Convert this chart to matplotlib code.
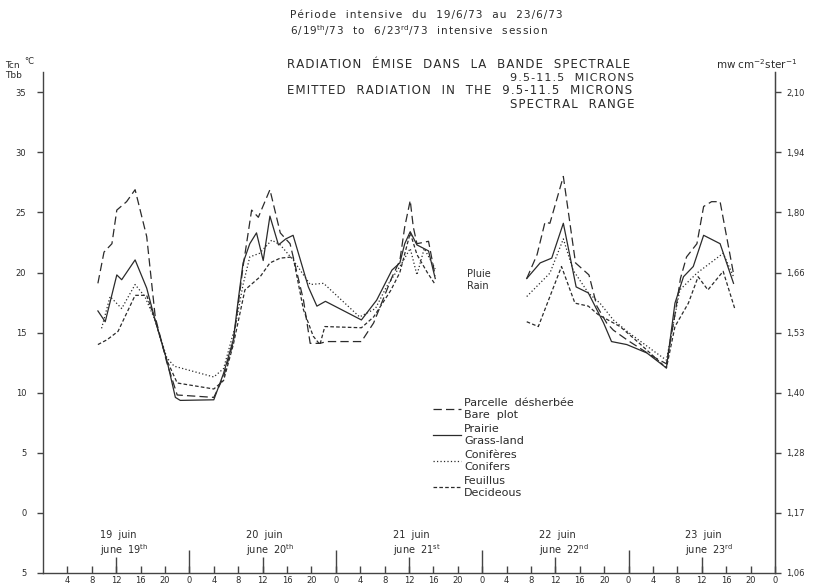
import numpy as np
import matplotlib.pyplot as plt

plt.rcParams['font.family'] = ['DejaVu Sans']
plt.rcParams['lines.scale_dashes'] = False

W, H = 814, 586
INK = "#2b2b2b"

# hours counted from 19 June 0h, temperatures in degC
# two measured stretches each, the gap in between is the rain
bare_h1 = [9, 10, 11.3, 12.1, 13.7, 15.1, 17, 18.4, 20.3, 22, 28, 29.6, 31.2, 32.8, 34.2, 35.3, 37.2,
           38.9, 40.5, 42.7, 43.8, 45.4, 46.5, 52.2, 54.2, 57.2, 58.5, 59.3, 60.2, 60.7, 61.3, 63.2, 64.3]
bare_v1 = [19.1, 21.7, 22.4, 25.2, 25.9, 26.9, 23.0, 16.3, 12.5, 9.8, 9.6, 11.3, 14.2, 20.5, 25.2, 24.6, 26.9,
           23.3, 22.4, 17.7, 14.1, 14.1, 14.25, 14.25, 15.8, 19.6, 21.0, 23.8, 26.0, 23.8, 22.4, 22.6, 19.7]
bare_h2 = [79.3, 81, 82.3, 83.1, 85.3, 87.3, 89.5, 90.8, 92.4, 93.5, 96, 100, 102.2, 103.6, 104.5,
           105.5, 107.2, 108.3, 109.6, 111, 113.2]
bare_v2 = [19.5, 21.5, 24.2, 24.1, 28.0, 20.8, 19.8, 17.2, 15.8, 15.2, 14.3, 13.0, 12.4, 16.5, 19.5,
           21.3, 22.4, 25.5, 25.9, 25.9, 19.9]

grass_h1 = [9, 10.2, 12.1, 12.9, 15.1, 17, 18.4, 20.3, 21.7, 22.5, 28, 29.6, 31.2, 32, 32.8, 33.9, 35,
            36.1, 37.2, 38.6, 39.8, 41, 43.5, 44.9, 46.3, 52.2, 54.7, 57.2, 58.5, 59.3, 60.2, 61.3, 63.2, 64.3]
grass_v1 = [16.8, 15.9, 19.8, 19.4, 21.05, 18.7, 16.0, 12.7, 9.6, 9.35, 9.4, 11.6, 14.4, 17.7, 20.8, 22.4, 23.3,
            21.0, 24.7, 22.3, 22.8, 23.1, 18.8, 17.2, 17.6, 16.05, 17.7, 20.2, 20.8, 22.4, 23.4, 22.3, 21.8, 19.5]
grass_h2 = [79.3, 81.5, 83.4, 85.3, 87.4, 89.4, 91.9, 93.2, 95.7, 99, 102.2, 103.6, 105, 106.6, 108.3, 111, 113.2]
grass_v2 = [19.5, 20.8, 21.2, 24.1, 18.8, 18.3, 15.8, 14.25, 14.0, 13.3, 12.05, 17.45, 19.65, 20.5, 23.1, 22.4, 19.1]

conif_h1 = [9.6, 11, 12.9, 15.1, 16.7, 18.4, 20.3, 21.5, 28, 29.6, 31.5, 32.8, 33.9, 35.5, 37.5, 38.9, 41,
            43.8, 46, 51.9, 54.5, 56.3, 58.5, 60.2, 61.3, 62.5, 64.3]
conif_v1 = [15.35, 18.0, 17.0, 19.0, 18.0, 16.0, 12.9, 12.2, 11.3, 12.0, 15.5, 19.0, 21.3, 21.6, 22.7, 22.3, 21.05,
            19.0, 19.1, 16.3, 17.0, 18.8, 20.5, 22.0, 19.8, 22.0, 20.3]
conif_h2 = [79.3, 83.1, 85.3, 86.9, 89.4, 91.3, 93.5, 96, 100, 102.2, 104.4, 107.2, 111.5, 113.2]
conif_v2 = [18.0, 19.95, 22.8, 20.2, 18.3, 17.45, 16.05, 15.0, 13.5, 12.7, 18.55, 19.95, 21.6, 19.65]

decid_h1 = [9, 10.5, 12.3, 15.1, 17, 18.4, 20.3, 22, 28, 29.6, 31.2, 33.1, 35.6, 37.2, 38.9, 41, 42.7,
            44.3, 45.4, 46.2, 52.2, 54.2, 57, 58.5, 60.2, 61.3, 63, 64.3]
decid_v1 = [14.0, 14.4, 15.1, 18.1, 18.1, 16.0, 12.7, 10.8, 10.3, 11.0, 14.0, 18.55, 19.65, 20.8, 21.2, 21.3, 16.9,
            14.7, 14.0, 15.5, 15.4, 16.3, 18.5, 20.0, 23.3, 21.5, 20.0, 19.0]
decid_h2 = [79.3, 81.2, 85, 87.2, 89.4, 91, 94.6, 98, 102.2, 103.6, 105.8, 107.4, 109, 111.5, 113.4]
decid_v2 = [15.9, 15.5, 20.5, 17.45, 17.2, 16.5, 15.5, 14.0, 12.05, 15.5, 17.45, 19.65, 18.55, 20.1, 17.0]

series_labels = ["Parcelle  désherbée\nBare  plot", "Prairie\nGrass-land",
                 "Conifères\nConifers", "Feuillus\nDecideous"]

left_ticks = [35, 30, 25, 20, 15, 10, 5, 0, -5]
left_labels = ["35", "30", "25", "20", "15", "10", "5", "0", "5"]
right_labels = ["2,10", "1,94", "1,80", "1,66", "1,53", "1,40", "1,28", "1,17", "1,06"]

day_labels = ["19  juin\njune  19$^{\\rm th}$", "20  juin\njune  20$^{\\rm th}$",
              "21  juin\njune  21$^{\\rm st}$", "22  juin\njune  22$^{\\rm nd}$",
              "23  juin\njune  23$^{\\rm rd}$"]


def join(h1, v1, h2, v2):
    # NaN breaks the line over the rain gap
    return np.array(h1 + [np.nan] + h2), np.array(v1 + [np.nan] + v2)


def track(s):
    # the old lettering is widely spaced, fake it with hair spaces
    return "\u200a".join(s)


def fx(px):
    return px / W


def fy(py):
    return 1 - py / H


fig = plt.figure(figsize=(W / 100, H / 100), dpi=100)
ax = fig.add_axes([fx(43), fy(572.7), (775 - 43) / W, (572.7 - 72) / H])

styles = [(0, (6, 3)), "-", (0, (0.9, 1.6)), (0, (2.6, 1.6))]
data = [join(bare_h1, bare_v1, bare_h2, bare_v2),
        join(grass_h1, grass_v1, grass_h2, grass_v2),
        join(conif_h1, conif_v1, conif_h2, conif_v2),
        join(decid_h1, decid_v1, decid_h2, decid_v2)]
for (h, v), ls, lab in zip(data, styles, series_labels):
    ax.plot(h, v, color=INK, lw=0.9, ls=ls, label=lab)

ax.set_xlim(0, 120)
ax.set_ylim(-5, 36.7)

ax.spines["top"].set_visible(False)
for s in ["left", "right", "bottom"]:
    ax.spines[s].set_color("#444444")
    ax.spines[s].set_linewidth(1.0)

# x axis: short ticks every 4 h, longer at noon, longest at midnight
hours = list(range(4, 121, 4))
ax.set_xticks(hours, [str(h % 24) for h in hours])
ax.set_xticks([12 + 24 * d for d in range(5)], minor=True)
ax.xaxis.remove_overlapping_locs = False
ax.tick_params(axis="x", which="major", direction="in", length=5, width=1, color="#444444",
               labelsize=6, pad=2.5, labelcolor=INK)
ax.tick_params(axis="x", which="minor", direction="in", length=11.5, width=1, color="#444444")
sec = ax.secondary_xaxis("bottom")
sec.set_xticks([24, 48, 72, 96], ["", "", "", ""])
sec.tick_params(direction="in", length=16.5, width=1, color="#444444")
sec.spines["bottom"].set_visible(False)

ax.set_yticks(left_ticks, left_labels)
ax.tick_params(axis="y", which="major", direction="out", length=4, width=1, color="#444444",
               labelsize=6, pad=8, labelcolor=INK)

ax2 = ax.twinx()
ax2.set_ylim(ax.get_ylim())
ax2.set_yticks(left_ticks, right_labels)
ax2.tick_params(axis="y", direction="out", length=4, width=1, color="#444444",
                labelsize=6, pad=4, labelcolor=INK)
for s in ["top", "left", "bottom"]:
    ax2.spines[s].set_visible(False)
ax2.spines["right"].set_color("#444444")

for d, lab in enumerate(day_labels):
    ax.text(24 * d + 9.3, -2.6, lab, fontsize=7, ha="left", va="center", color=INK)

ax.text(69.5, 19.4, "Pluie\nRain", fontsize=7, ha="left", va="center", color=INK)

leg = ax.legend(loc="upper left", bbox_to_anchor=(fx(433), fy(398)), bbox_transform=fig.transFigure,
                frameon=False, fontsize=8, handlelength=2.5, handletextpad=0.3,
                labelspacing=0.4, borderpad=0, borderaxespad=0)
for t in leg.get_texts():
    t.set_color(INK)

# titles
fig.text(fx(290), fy(15), track("Période  intensive  du  19/6/73  au  23/6/73"),
         fontsize=7.6, va="center", color=INK)
sub = (track("6/19") + "$^{\\rm th}$" + track("/73  to  6/23") + "$^{\\rm rd}$"
       + track("/73  intensive  session"))
fig.text(fx(290), fy(30.5), sub, fontsize=7.5, va="center", color=INK)
fig.text(fx(287), fy(65), track("RADIATION  ÉMISE  DANS  LA  BANDE  SPECTRALE"),
         fontsize=8.5, va="center", color=INK)
fig.text(fx(634), fy(78), track("9.5-11.5  MICRONS"), fontsize=8, ha="right", va="center", color=INK)
fig.text(fx(287), fy(91), track("EMITTED  RADIATION  IN  THE  9.5-11.5  MICRONS"),
         fontsize=8.5, va="center", color=INK)
fig.text(fx(634), fy(104), track("SPECTRAL  RANGE"), fontsize=8.5, ha="right", va="center", color=INK)

fig.text(fx(5), fy(65), "Tcn", fontsize=6.5, va="center", color=INK)
fig.text(fx(24), fy(62), "°C", fontsize=6, va="center", color=INK)
fig.text(fx(5), fy(75), "Tbb", fontsize=6.5, va="center", color=INK)
fig.text(fx(716), fy(64), "mw cm$^{-2}$ster$^{-1}$", fontsize=7.5, va="center", color=INK)

fig.savefig("out.png", dpi=100, facecolor="white")
